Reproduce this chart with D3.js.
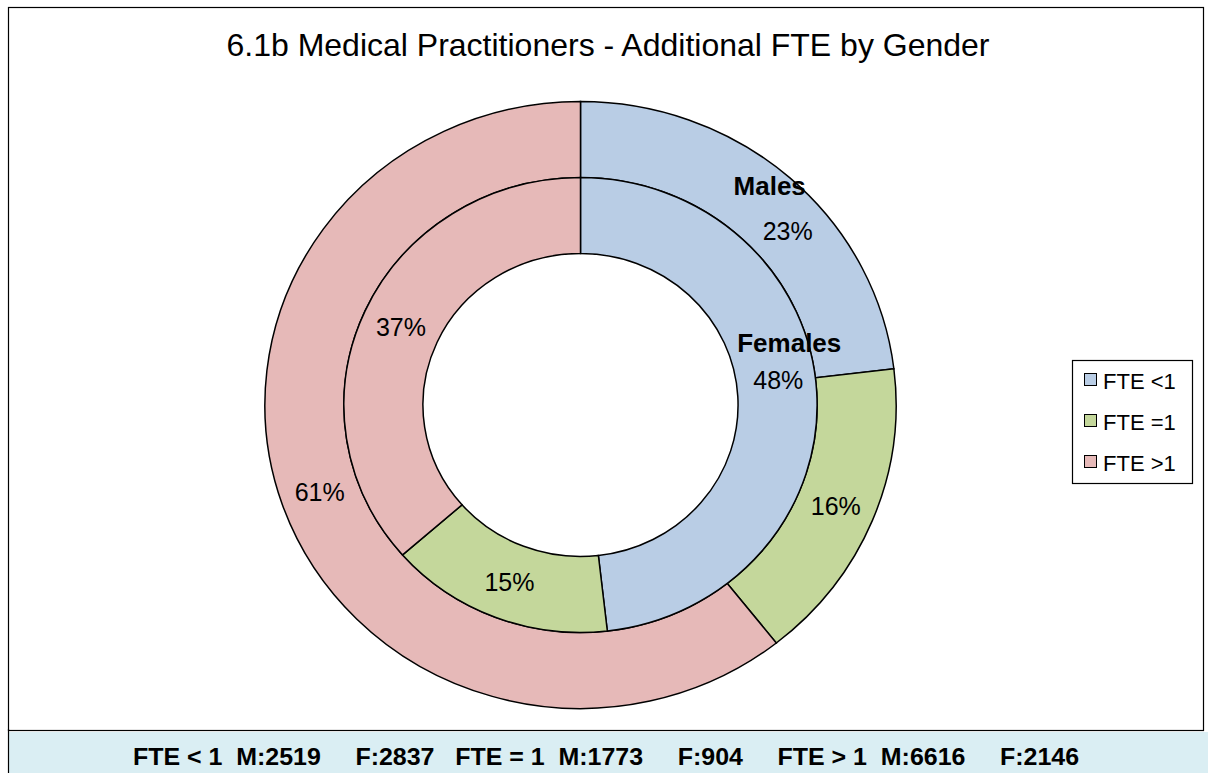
<!DOCTYPE html>
<html>
<head>
<meta charset="utf-8">
<script src="https://cdn.jsdelivr.net/npm/d3@7"></script>
<style>
  html, body { margin: 0; padding: 0; background: #fff; }
  svg { display: block; font-family: "Liberation Sans", Arial, sans-serif; }
</style>
</head>
<body>
<svg id="chart" width="1208" height="773"></svg>
<script>
// ---- data ----
const title = "6.1b Medical Practitioners - Additional FTE by Gender";
const categories = ["FTE <1", "FTE =1", "FTE >1"];
const seriesNames = ["Males", "Females"];
const males = [2519, 1773, 6616];
const females = [2837, 904, 2146];
const footerText = "FTE < 1  M:2519     F:2837   FTE = 1  M:1773     F:904     FTE > 1  M:6616     F:2146";
const colors = ["#B9CDE5", "#C4D79B", "#E6B9B8"];

// ---- layout ----
const W = 1208, H = 773;
const cx = 580.5, cy = 405;
const xStretch = 1.04;
const rOuter = 303.5, rMid = 227.5, rInner = 151.5;

const svg = d3.select("#chart");

// chart frame
svg.append("rect").attr("x", 8.5).attr("y", 7.5).attr("width", 1195).attr("height", 723)
  .attr("fill", "#fff").attr("stroke", "#000").attr("stroke-width", 1.2);

// footer bar
svg.append("rect").attr("x", 8).attr("y", 732).attr("width", W - 8).attr("height", H - 732)
  .attr("fill", "#DAEEF3");
svg.append("line").attr("x1", 8.5).attr("x2", 8.5).attr("y1", 729).attr("y2", H)
  .attr("stroke", "#000").attr("stroke-width", 1.2);
svg.append("g").attr("transform", `translate(606,765) scale(${xStretch},1)`)
  .append("text").attr("x", 0).attr("y", 0)
  .attr("text-anchor", "middle").attr("font-weight", "bold").attr("font-size", 24)
  .attr("xml:space", "preserve").style("white-space", "pre")
  .text(footerText);

// title
svg.append("text").attr("x", 608).attr("y", 56).attr("text-anchor", "middle")
  .attr("font-size", 32).attr("fill", "#000").text(title);

// percentages rounded so each ring sums to 100 (largest remainder)
function pctRound(values) {
  const total = d3.sum(values);
  const raw = values.map(v => v / total * 100);
  const fl = raw.map(Math.floor);
  let rem = 100 - d3.sum(fl);
  const order = raw.map((r, i) => [r - fl[i], i]).sort((a, b) => b[0] - a[0]);
  for (let k = 0; k < rem; k++) fl[order[k][1]] += 1;
  return fl;
}

// donut
const pie = d3.pie().sort(null).value(d => d);
const arcOuter = d3.arc().innerRadius(rMid).outerRadius(rOuter);
const arcInner = d3.arc().innerRadius(rInner).outerRadius(rMid);

const g = svg.append("g").attr("transform", `translate(${cx},${cy}) scale(${xStretch},1)`);
const rings = [
  { name: seriesNames[0], values: males, arc: arcOuter },
  { name: seriesNames[1], values: females, arc: arcInner }
];

rings.forEach(ring => {
  const arcs = pie(ring.values);
  g.selectAll(null).data(arcs).enter().append("path")
    .attr("d", ring.arc)
    .attr("fill", (d, i) => colors[i])
    .attr("stroke", "#000").attr("stroke-width", 1.5)
    .attr("vector-effect", "non-scaling-stroke");
  ring.arcsData = arcs;
});

// labels (outside the stretched group so text is not distorted)
const labelNudge = { "Males-0": [24, 25, -18, -45], "Females-0": [1, -14, 11, -37] };
const lg = svg.append("g");
rings.forEach(ring => {
  const pcts = pctRound(ring.values);
  ring.arcsData.forEach((d, i) => {
    const c = ring.arc.centroid(d);
    let x = cx + c[0] * xStretch, y = cy + c[1];
    const key = ring.name + "-" + i;
    if (labelNudge[key]) {
      const n = labelNudge[key];
      x += n[0]; y += n[1];
      lg.append("text").attr("x", x + n[2]).attr("y", y + n[3])
        .attr("text-anchor", "middle").attr("dominant-baseline", "central")
        .attr("font-size", 26).attr("font-weight", "bold").text(ring.name);
    }
    lg.append("text").attr("x", x).attr("y", y)
      .attr("text-anchor", "middle").attr("dominant-baseline", "central")
      .attr("font-size", 25).text(pcts[i] + "%");
  });
});

// legend
const leg = svg.append("g").attr("transform", "translate(1072,360)");
leg.append("rect").attr("x", 0.5).attr("y", 0.5).attr("width", 120).attr("height", 123)
  .attr("fill", "#fff").attr("stroke", "#000").attr("stroke-width", 1.2);
const rowY = d3.scalePoint().domain(categories).range([20, 102]);
categories.forEach((c, i) => {
  const y = rowY(c);
  leg.append("rect").attr("x", 12.5).attr("y", y - 6.5).attr("width", 12).attr("height", 12)
    .attr("fill", colors[i]).attr("stroke", "#000").attr("stroke-width", 1);
  leg.append("text").attr("x", 31).attr("y", y + 1).attr("dominant-baseline", "central")
    .attr("font-size", 22).text(c);
});
</script>
</body>
</html>
